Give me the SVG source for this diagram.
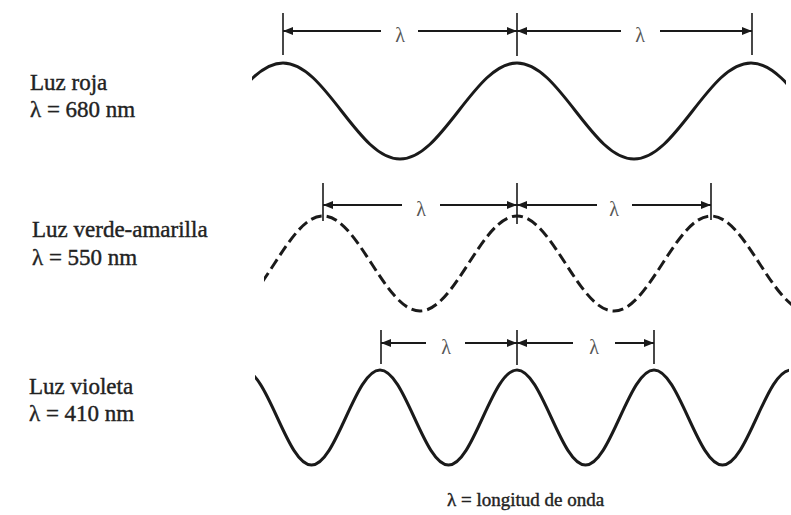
<svg xmlns="http://www.w3.org/2000/svg" width="791" height="515" viewBox="0 0 791 515">
<style>
.lbl{font-family:"Liberation Serif","Times New Roman","DejaVu Serif",serif;font-size:23px;fill:#222;stroke:#222;stroke-width:0.4}
.leg{font-family:"Liberation Serif","Times New Roman","DejaVu Serif",serif;font-size:19px;fill:#222;stroke:#222;stroke-width:0.4}
.lam{font-family:"Liberation Serif","Times New Roman","DejaVu Serif",serif;font-size:20px;fill:#555;text-anchor:middle}
.wave{fill:none;stroke:#1a1a1a;stroke-width:3;stroke-linecap:round;stroke-linejoin:round}
.dash{stroke-dasharray:11 5;stroke-linecap:butt}
.dim{stroke:#1a1a1a;stroke-width:2;fill:none}
.tick{stroke:#1a1a1a;stroke-width:1.6}
</style>
<defs>
<marker id="ah" viewBox="0 0 10 8" refX="10" refY="4" markerWidth="10" markerHeight="8" markerUnits="userSpaceOnUse" orient="auto">
<path d="M0,0 L10,4 L0,8 z" fill="#1a1a1a"/>
</marker>
<clipPath id="c1"><rect x="252" y="0" width="534" height="200"/></clipPath>
<clipPath id="c2"><rect x="264" y="180" width="527" height="160"/></clipPath>
<clipPath id="c3"><rect x="255" y="340" width="534" height="140"/></clipPath>
</defs>
<rect width="791" height="515" fill="#fff"/>

<g id="label-roja">
<text class="lbl" x="30" y="90">Luz roja</text>
<text class="lbl" x="30" y="117">λ = 680 nm</text>
</g>
<g id="label-verde">
<text class="lbl" x="32" y="237">Luz verde-amarilla</text>
<text class="lbl" x="32" y="265">λ = 550 nm</text>
</g>
<g id="label-violeta">
<text class="lbl" x="29" y="394">Luz violeta</text>
<text class="lbl" x="29" y="421">λ = 410 nm</text>
</g>

<g id="wave-roja" clip-path="url(#c1)">
<path class="wave" d="M166,159 C187.17,159 205.42,135.6 224.5,111 S261.83,63 283,63 S322.42,86.4 341.5,111 S378.83,159 400,159 S439.42,135.6 458.5,111 S495.83,63 517,63 S556.42,86.4 575.5,111 S612.83,159 634,159 S673.42,135.6 692.5,111 S729.83,63 751,63 S790.42,86.4 809.5,111"/>
</g>
<g id="wave-verde" clip-path="url(#c2)">
<path class="wave dash" d="M226,311 C243.55,311 258.68,287.8 274.5,263.5 S305.45,216 323,216 S355.68,239.2 371.5,263.5 S402.45,311 420,311 S452.68,287.8 468.5,263.5 S499.45,216 517,216 S549.68,239.2 565.5,263.5 S596.45,311 614,311 S646.68,287.8 662.5,263.5 S693.45,216 711,216 S743.68,239.2 759.5,263.5 S790.45,311 808,311"/>
</g>
<g id="wave-violeta" clip-path="url(#c3)">
<path class="wave" d="M243,370 C255.4,370 266.08,393.2 277.25,417.5 S299.1,465 311.5,465 S334.58,441.8 345.75,417.5 S367.6,370 380,370 S403.08,393.2 414.25,417.5 S436.1,465 448.5,465 S471.58,441.8 482.75,417.5 S504.6,370 517,370 S540.08,393.2 551.25,417.5 S573.1,465 585.5,465 S608.58,441.8 619.75,417.5 S641.6,370 654,370 S677.08,393.2 688.25,417.5 S710.1,465 722.5,465 S745.58,441.8 756.75,417.5 S778.6,370 791,370 S814.08,393.2 825.25,417.5"/>
</g>

<g id="ticks">
<line class="tick" x1="283" y1="13" x2="283" y2="55"/>
<line class="tick" x1="517" y1="13" x2="517" y2="56"/>
<line class="tick" x1="752" y1="13" x2="752" y2="55"/>
<line class="tick" x1="323" y1="183" x2="323" y2="221"/>
<line class="tick" x1="517" y1="183" x2="517" y2="224"/>
<line class="tick" x1="711" y1="183" x2="711" y2="220"/>
<line class="tick" x1="381" y1="330" x2="381" y2="364"/>
<line class="tick" x1="517" y1="330" x2="517" y2="365"/>
<line class="tick" x1="654" y1="330" x2="654" y2="364"/>
</g>

<g id="connectors">
<line class="dim" x1="381" y1="31" x2="283" y2="31" marker-end="url(#ah)"/>
<line class="dim" x1="418" y1="31" x2="517" y2="31" marker-end="url(#ah)"/>
<line class="dim" x1="621" y1="31" x2="517" y2="31" marker-end="url(#ah)"/>
<line class="dim" x1="660" y1="31" x2="752" y2="31" marker-end="url(#ah)"/>
<line class="dim" x1="402" y1="205" x2="323" y2="205" marker-end="url(#ah)"/>
<line class="dim" x1="440" y1="205" x2="517" y2="205" marker-end="url(#ah)"/>
<line class="dim" x1="597" y1="205" x2="517" y2="205" marker-end="url(#ah)"/>
<line class="dim" x1="632" y1="205" x2="711" y2="205" marker-end="url(#ah)"/>
<line class="dim" x1="426" y1="343" x2="381" y2="343" marker-end="url(#ah)"/>
<line class="dim" x1="465" y1="343" x2="517" y2="343" marker-end="url(#ah)"/>
<line class="dim" x1="573" y1="343" x2="517" y2="343" marker-end="url(#ah)"/>
<line class="dim" x1="615" y1="343" x2="654" y2="343" marker-end="url(#ah)"/>
</g>

<g id="dim-labels">
<text class="lam" x="400" y="42">λ</text>
<text class="lam" x="640" y="42">λ</text>
<text class="lam" x="421" y="216">λ</text>
<text class="lam" x="614" y="216">λ</text>
<text class="lam" x="446" y="354">λ</text>
<text class="lam" x="594" y="354">λ</text>
</g>

<g id="legend">
<text class="leg" x="447" y="506">λ = longitud de onda</text>
</g>
</svg>
